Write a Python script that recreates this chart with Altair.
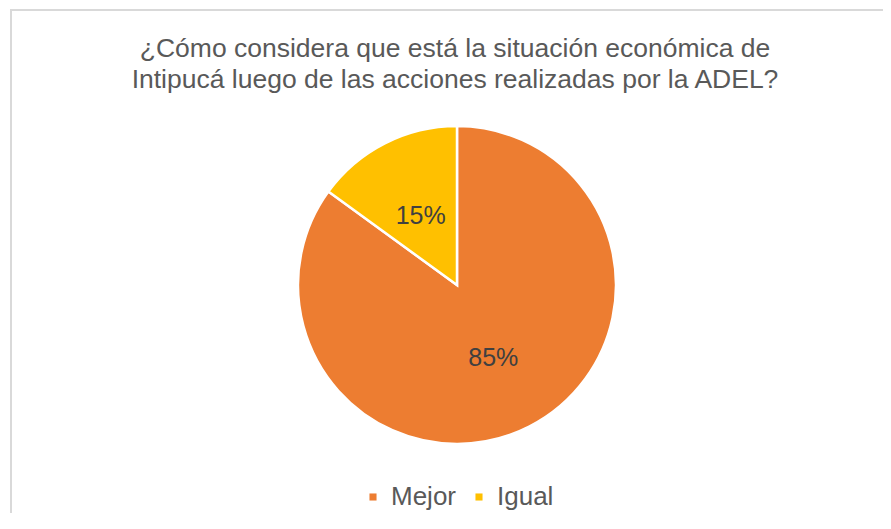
import altair as alt
import pandas as pd

categories = ["Mejor", "Igual"]
values = [85, 15]
labels = ["85%", "15%"]
order = [1, 2]
title_lines = ["¿Cómo considera que está la situación económica de",
               "Intipucá luego de las acciones realizadas por la ADEL?"]
colors = ["#ED7D31", "#FFC000"]

df = pd.DataFrame({"cat": categories, "val": values, "lab": labels, "ord": order})

FONT = "Liberation Sans"
CX, CY, R = 449, 277, 159

base = alt.Chart(df).encode(
    theta=alt.Theta("val:Q", stack=True),
    order=alt.Order("ord:Q"),
)

pie = base.mark_arc(radius=R, stroke="white", strokeWidth=2.5).encode(
    x=alt.value(CX), y=alt.value(CY),
    color=alt.Color("cat:N", sort=categories,
                    scale=alt.Scale(domain=categories, range=colors),
                    legend=alt.Legend(title=None, orient="none", direction="horizontal",
                                      legendX=352, legendY=476,
                                      symbolType="square", symbolSize=50,
                                      symbolStrokeWidth=0,
                                      labelFont=FONT, labelFontSize=26,
                                      labelColor="#595959", columnPadding=9,
                                      labelOffset=5)),
)

text = base.mark_text(radius=80, font=FONT, fontSize=25, color="#404040",
                      align="center", baseline="middle", dy=2).encode(
    x=alt.value(CX), y=alt.value(CY),
    text="lab:N",
)

tdf = pd.DataFrame({"t": [title_lines]})
title = alt.Chart(tdf).mark_text(font=FONT, fontSize=26.5, color="#595959",
                                 align="center", baseline="alphabetic",
                                 lineHeight=31).encode(
    x=alt.value(447), y=alt.value(49), text="t"
)

bdf = pd.DataFrame({"a": [0]})
left = alt.Chart(bdf).mark_rule(color="#D9D9D9", strokeWidth=2).encode(
    x=alt.value(3), y=alt.value(1), y2=alt.value(505))
top = alt.Chart(bdf).mark_rule(color="#D9D9D9", strokeWidth=2).encode(
    x=alt.value(2), x2=alt.value(875), y=alt.value(2))

chart = alt.layer(pie, text, title, left, top).properties(
    width=875, height=505, padding=0,
    autosize=alt.AutoSizeParams(type="none"),
    background="white",
).configure_view(stroke=None)

chart.save("out.html", embed_options={"renderer": "svg", "actions": False})
